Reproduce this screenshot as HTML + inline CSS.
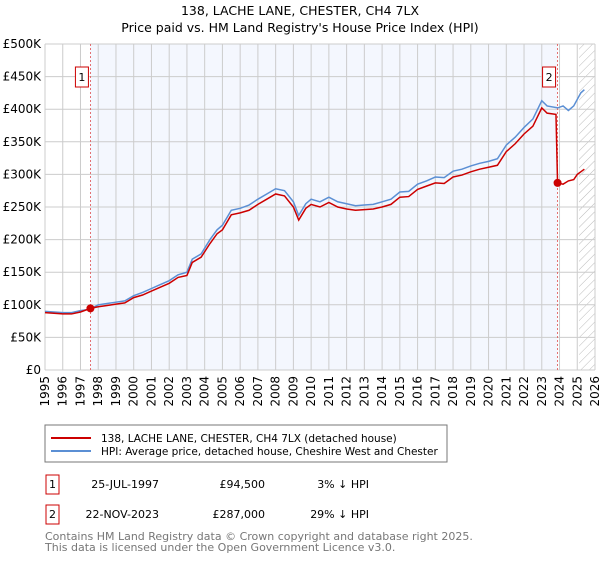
<!DOCTYPE html>
<html><head><meta charset="utf-8"><style>
body{margin:0;background:#fff;font-family:"DejaVu Sans","Liberation Sans",sans-serif;}
svg text{font-family:"DejaVu Sans","Liberation Sans",sans-serif;}
</style></head><body>
<svg id="chart" width="600" height="560" xmlns="http://www.w3.org/2000/svg">
<defs><pattern id="hatch" width="6" height="6" patternUnits="userSpaceOnUse" patternTransform="rotate(45)"><line x1="0" y1="0" x2="0" y2="6" stroke="#bbb" stroke-width="1"/></pattern></defs>
<text x="300" y="15" text-anchor="middle" font-size="12.5">138, LACHE LANE, CHESTER, CH4 7LX</text>
<text x="300" y="32" text-anchor="middle" font-size="12.5">Price paid vs. HM Land Registry's House Price Index (HPI)</text>
<g id="grid"></g><g id="series"></g><g id="axes"></g>
<rect x="45" y="425" width="402" height="37" fill="#fff" stroke="#777"/>
<line x1="51" y1="438" x2="91" y2="438" stroke="#cc0000" stroke-width="2"/>
<text x="101" y="442" font-size="10.5">138, LACHE LANE, CHESTER, CH4 7LX (detached house)</text>
<line x1="51" y1="451" x2="91" y2="451" stroke="#5b8fd4" stroke-width="2"/>
<text x="101" y="455" font-size="10.5">HPI: Average price, detached house, Cheshire West and Chester</text>
<g font-size="11">
<rect x="46" y="475" width="13" height="19" fill="none" stroke="#cc0000"/><text x="52.5" y="488" text-anchor="middle">1</text>
<text x="159" y="488" text-anchor="end">25-JUL-1997</text><text x="265" y="488" text-anchor="end">£94,500</text><text x="369" y="488" text-anchor="end">3% ↓ HPI</text>
<rect x="46" y="505" width="13" height="19" fill="none" stroke="#cc0000"/><text x="52.5" y="518" text-anchor="middle">2</text>
<text x="159" y="518" text-anchor="end">22-NOV-2023</text><text x="265" y="518" text-anchor="end">£287,000</text><text x="369" y="518" text-anchor="end">29% ↓ HPI</text>
</g>
<text x="45" y="540" font-size="11" fill="#777">Contains HM Land Registry data © Crown copyright and database right 2025.</text>
<text x="45" y="551" font-size="11" fill="#777">This data is licensed under the Open Government Licence v3.0.</text>
</svg>
<script>
const hpiYears=[1995,1995.5,1996,1996.5,1997,1997.5,1998,1998.5,1999,1999.5,2000,2000.5,2001,2001.5,2002,2002.5,2003,2003.3,2003.8,2004.3,2004.7,2005,2005.5,2006,2006.5,2007,2007.5,2008,2008.5,2009,2009.3,2009.7,2010,2010.5,2011,2011.5,2012,2012.5,2013,2013.5,2014,2014.5,2015,2015.5,2016,2016.5,2017,2017.5,2018,2018.5,2019,2019.5,2020,2020.5,2021,2021.5,2022,2022.5,2023,2023.3,2023.9,2024.2,2024.5,2024.8,2025.2,2025.4];
const hpiValues=[90,89,88,88,91,93,100,102,104,106,114,119,125,131,137,146,150,170,178,200,215,222,245,248,253,262,270,278,275,258,237,255,262,258,265,258,255,252,253,254,258,262,273,274,285,290,296,295,305,308,313,317,320,324,345,357,372,385,413,405,402,405,398,405,425,430];
const priceYears=[1995,1995.5,1996,1996.5,1997,1997.56,1998,1998.5,1999,1999.5,2000,2000.5,2001,2001.5,2002,2002.5,2003,2003.3,2003.8,2004.3,2004.7,2005,2005.5,2006,2006.5,2007,2007.5,2008,2008.5,2009,2009.3,2009.7,2010,2010.5,2011,2011.5,2012,2012.5,2013,2013.5,2014,2014.5,2015,2015.5,2016,2016.5,2017,2017.5,2018,2018.5,2019,2019.5,2020,2020.5,2021,2021.5,2022,2022.5,2023,2023.3,2023.8,2023.89,2024.2,2024.5,2024.8,2025.0,2025.4];
const priceValues=[88,87,86,86,89,94.5,97,99,101,103,111,115,121,127,133,142,145,165,173,194,209,215,238,241,245,254,262,270,267,250,230,248,254,250,257,250,247,245,246,247,250,254,265,266,277,282,287,286,296,299,304,308,311,314,335,347,362,374,402,394,392,287,285,290,292,300,308];
const sales=[{n:"1",year:1997.56,value:94.5},{n:"2",year:2023.89,value:287}];
const yTicks=[0,50,100,150,200,250,300,350,400,450,500];
const yTickLabels=["£0","£50K","£100K","£150K","£200K","£250K","£300K","£350K","£400K","£450K","£500K"];
const xTicks=[1995,1996,1997,1998,1999,2000,2001,2002,2003,2004,2005,2006,2007,2008,2009,2010,2011,2012,2013,2014,2015,2016,2017,2018,2019,2020,2021,2022,2023,2024,2025,2026];
const L=45,R=595,T=44,B=370,X0=1995,X1=2026,Ymax=500;
const xs=v=>L+(v-X0)/(X1-X0)*(R-L);
const ys=v=>B-v/Ymax*(B-T);
const NS="http://www.w3.org/2000/svg";
function mk(tag,attrs,parent){const e=document.createElementNS(NS,tag);for(const k in attrs)e.setAttribute(k,attrs[k]);parent.appendChild(e);return e;}
const grid=document.getElementById('grid'),series=document.getElementById('series'),axes=document.getElementById('axes');
let r=mk('rect',{x:xs(sales[0].year),y:T,width:xs(sales[1].year)-xs(sales[0].year),height:B-T,fill:'#f0f4fd',opacity:0.7},grid);


let h=mk('rect',{x:xs(2025.1),y:T,width:R-xs(2025.1),height:B-T,fill:'url(#hatch)'},grid);


yTicks.forEach((v,i)=>{
 let g=mk('line',{x1:L,x2:R,y1:ys(v),y2:ys(v),stroke:'#ccc'},grid);
 
 
 let t=mk('text',{x:L-4,y:ys(v)+4,'text-anchor':'end','font-size':'12'},axes);t.textContent=yTickLabels[i];
 
 
});
xTicks.forEach(v=>{
 let g=mk('line',{x1:xs(v),x2:xs(v),y1:T,y2:B,stroke:'#ccc'},grid);
 
 
 let t=mk('text',{x:0,y:0,'text-anchor':'end','font-size':'12',transform:`translate(${xs(v)+4},${B+6}) rotate(-90)`},axes);t.textContent=v;
 
 
});
sales.forEach(s=>{
 let d=mk('line',{x1:xs(s.year),x2:xs(s.year),y1:T,y2:B,stroke:'#e05050','stroke-dasharray':'2,2','stroke-width':0.8},grid);
 
 
});
let hp=mk('polyline',{points:hpiYears.map((y,i)=>xs(y)+','+ys(hpiValues[i])).join(' '),fill:'none',stroke:'#5b8fd4','stroke-width':1.5},series);


let pp=mk('polyline',{points:priceYears.map((y,i)=>xs(y)+','+ys(priceValues[i])).join(' '),fill:'none',stroke:'#cc0000','stroke-width':1.5},series);


sales.forEach(s=>{
 let c=mk('circle',{cx:xs(s.year),cy:ys(s.value),r:4,fill:'#cc0000'},series);
 
 
 let b=mk('rect',{x:xs(s.year)-15,y:67,width:13,height:20,fill:'#fff',stroke:'#cc0000'},series);
 
 
 let t=mk('text',{x:xs(s.year)-8.5,y:81,'text-anchor':'middle','font-size':'11'},series);t.textContent=s.n;
 
 
});
</script>
</body></html>
